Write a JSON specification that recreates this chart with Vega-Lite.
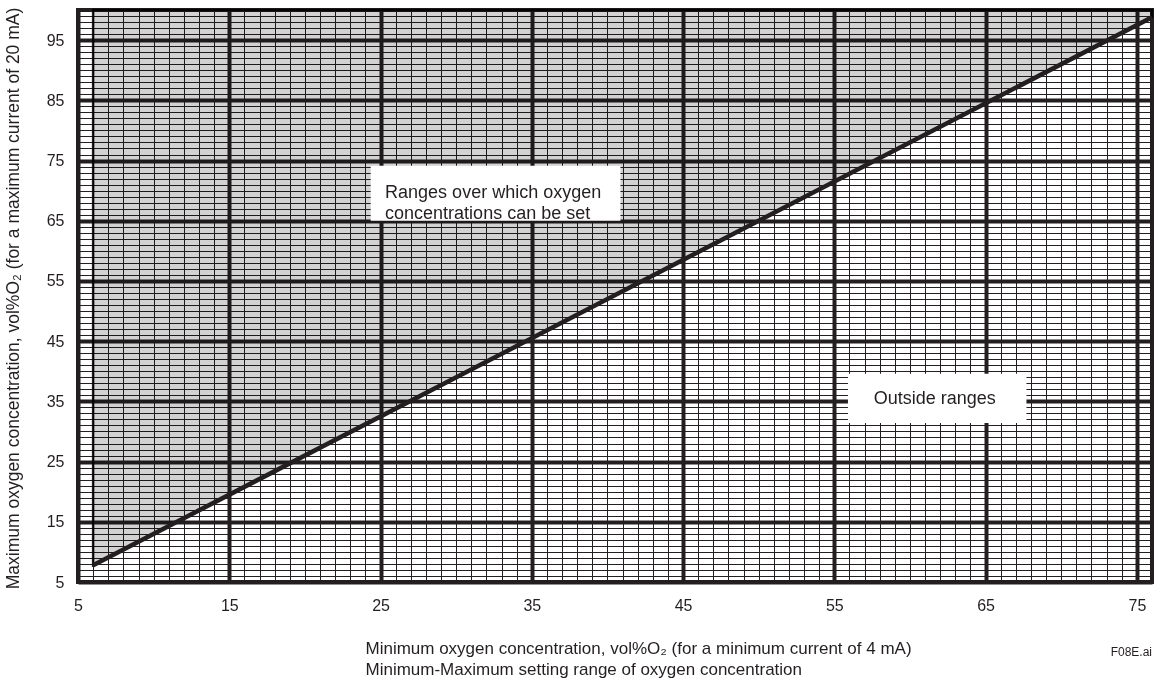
{
  "$schema": "https://vega.github.io/schema/vega-lite/v6.json",
  "width": 1074,
  "height": 572,
  "autosize": {"type": "none"},
  "padding": {"left": 78, "top": 10, "right": 4, "bottom": 100},
  "background": "white",
  "config": {
    "font": "Liberation Sans",
    "view": {"stroke": "#231f20", "strokeWidth": 4},
    "axis": {"labelColor": "#231f20", "titleColor": "#231f20", "labelFont": "Liberation Sans", "titleFont": "Liberation Sans", "titleFontWeight": "normal"}
  },
  "title": {"text": "F08E.ai", "orient": "bottom", "anchor": "end", "frame": "group", "align": "right", "fontSize": 12, "fontWeight": "normal", "color": "#231f20", "font": "Liberation Sans", "offset": -30},
  "datasets": {
    "region": [
      {"min": 6, "lower": 7.8, "upper": 100},
      {"min": 76, "lower": 98.8, "upper": 100}
    ],
    "limit": [
      {"min": 6, "max": 7.8},
      {"min": 76, "max": 98.8}
    ],
    "boxes": [
      {"name": "Ranges over which oxygen\nconcentrations can be set", "x1": 24.35, "x2": 40.86, "y1": 65.0, "y2": 74.15, "tx": 25.3, "ty": 69.6, "align": "left"},
      {"name": "Outside ranges", "x1": 55.9, "x2": 67.7, "y1": 31.4, "y2": 39.6, "tx": 61.64, "ty": 35.35, "align": "center"}
    ]
  },
  "layer": [
    {
      "data": {"name": "region"},
      "mark": {"type": "area", "fill": "#d2d2d2", "blend": "multiply", "stroke": "#231f20", "strokeWidth": 2.5},
      "encoding": {
        "x": {
          "field": "min", "type": "quantitative",
          "scale": {"domain": [5, 76], "nice": false, "zero": false},
          "axis": {
            "values": [5,6,7,8,9,10,11,12,13,14,15,16,17,18,19,20,21,22,23,24,25,26,27,28,29,30,31,32,33,34,35,36,37,38,39,40,41,42,43,44,45,46,47,48,49,50,51,52,53,54,55,56,57,58,59,60,61,62,63,64,65,66,67,68,69,70,71,72,73,74,75,76],
            "tickCount": 1000,
            "format": "d",
            "grid": true,
            "gridColor": "#231f20",
            "gridOpacity": 1,
            "gridWidth": {"condition": {"test": "(datum.value - 5) % 10 === 0", "value": 4}, "value": 1},
            "domain": false,
            "ticks": false,
            "labelOverlap": false,
            "labelBound": false,
            "labelFlush": false,
            "labelExpr": "(datum.value - 5) % 10 === 0 ? datum.label : ''",
            "labelFontSize": 16,
            "labelPadding": 15,
            "title": ["Minimum oxygen concentration, vol%O₂ (for a minimum current of 4 mA)", "Minimum-Maximum setting range of oxygen concentration"],
            "titleFontSize": 17,
            "titleAlign": "left",
            "titleAnchor": null,
            "titleX": 287,
            "titleY": 71,
            "titleBaseline": "alphabetic",
            "titleLineHeight": 21
          }
        },
        "y": {
          "field": "lower", "type": "quantitative",
          "scale": {"domain": [5, 100], "nice": false, "zero": false},
          "axis": {
            "values": [5,6,7,8,9,10,11,12,13,14,15,16,17,18,19,20,21,22,23,24,25,26,27,28,29,30,31,32,33,34,35,36,37,38,39,40,41,42,43,44,45,46,47,48,49,50,51,52,53,54,55,56,57,58,59,60,61,62,63,64,65,66,67,68,69,70,71,72,73,74,75,76,77,78,79,80,81,82,83,84,85,86,87,88,89,90,91,92,93,94,95,96,97,98,99,100],
            "tickCount": 1000,
            "format": "d",
            "grid": true,
            "gridColor": "#231f20",
            "gridOpacity": 1,
            "gridWidth": {"condition": {"test": "(datum.value - 5) % 10 === 0", "value": 4}, "value": 1},
            "domain": false,
            "ticks": false,
            "labelOverlap": false,
            "labelBound": false,
            "labelFlush": false,
            "labelExpr": "(datum.value - 5) % 10 === 0 && datum.value < 100 ? datum.label : ''",
            "labelFontSize": 16,
            "labelPadding": 14,
            "title": "Maximum oxygen concentration, vol%O₂ (for a maximum current of 20 mA)",
            "titleFontSize": 17.5,
            "titleAngle": 270,
            "titleAlign": "center",
            "titleBaseline": "middle",
            "titleX": -65,
            "titleY": 288
          }
        },
        "y2": {"field": "upper"}
      }
    },
    {
      "data": {"name": "limit"},
      "mark": {"type": "line", "color": "#231f20", "strokeWidth": 4.5, "strokeCap": "butt"},
      "encoding": {
        "x": {"field": "min", "type": "quantitative"},
        "y": {"field": "max", "type": "quantitative"}
      }
    },
    {
      "data": {"name": "boxes"},
      "mark": {"type": "rect", "fill": "white"},
      "encoding": {
        "x": {"field": "x1", "type": "quantitative"},
        "x2": {"field": "x2"},
        "y": {"field": "y1", "type": "quantitative"},
        "y2": {"field": "y2"}
      }
    },
    {
      "data": {"name": "boxes"},
      "transform": [{"filter": "datum.align === 'left'"}],
      "mark": {"type": "text", "align": "left", "baseline": "middle", "fontSize": 18, "lineHeight": 21, "lineBreak": "\n", "color": "#231f20", "font": "Liberation Sans"},
      "encoding": {
        "x": {"field": "tx", "type": "quantitative"},
        "y": {"field": "ty", "type": "quantitative"},
        "text": {"field": "name"}
      }
    },
    {
      "data": {"name": "boxes"},
      "transform": [{"filter": "datum.align === 'center'"}],
      "mark": {"type": "text", "align": "center", "baseline": "middle", "fontSize": 18, "color": "#231f20", "font": "Liberation Sans"},
      "encoding": {
        "x": {"field": "tx", "type": "quantitative"},
        "y": {"field": "ty", "type": "quantitative"},
        "text": {"field": "name"}
      }
    }
  ]
}
